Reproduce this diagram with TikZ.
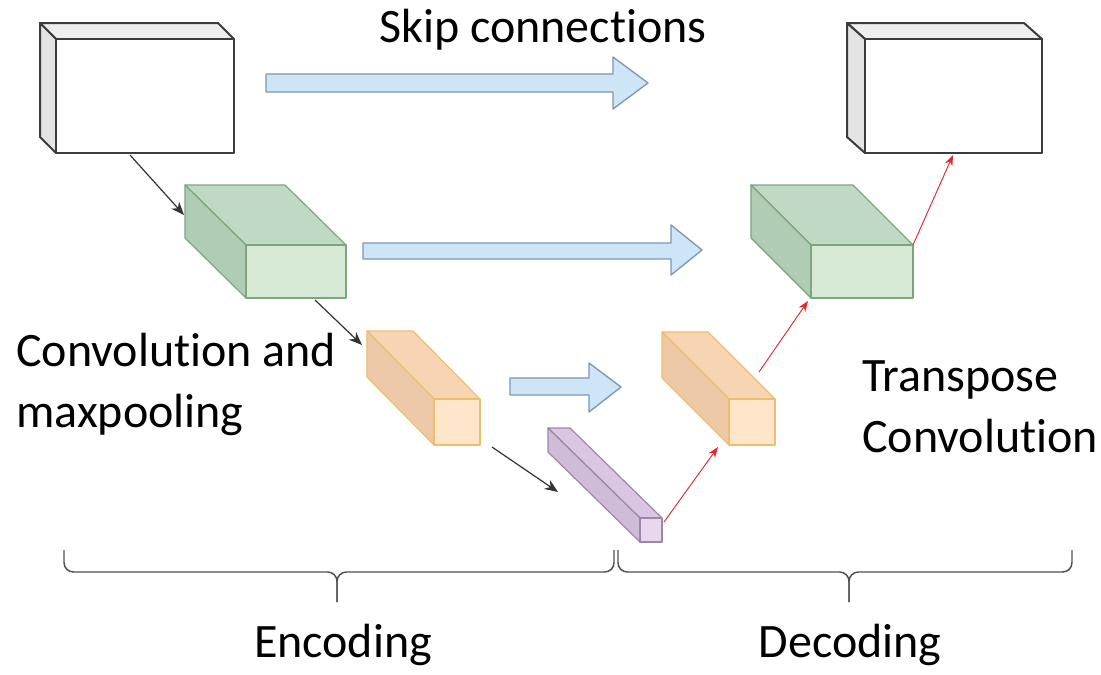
\documentclass[tikz,border=0pt]{standalone}
\usepackage{fontspec}
\setmainfont[Ligatures=NoCommon]{Carlito}
\usetikzlibrary{arrows.meta}
\definecolor{gfront}{RGB}{213,233,213}
\definecolor{gtop}{RGB}{192,217,196}
\definecolor{gside}{RGB}{176,204,181}
\definecolor{gstroke}{RGB}{125,165,125}
\definecolor{ofront}{RGB}{255,229,202}
\definecolor{otop}{RGB}{248,213,178}
\definecolor{oside}{RGB}{238,201,168}
\definecolor{ostroke}{RGB}{238,190,110}
\definecolor{pfront}{RGB}{231,216,236}
\definecolor{ptop}{RGB}{216,198,226}
\definecolor{pside}{RGB}{206,188,217}
\definecolor{pstroke}{RGB}{160,132,172}
\definecolor{wfront}{RGB}{255,255,255}
\definecolor{wtop}{RGB}{238,238,238}
\definecolor{wside}{RGB}{228,228,228}
\definecolor{wstroke}{RGB}{60,60,60}
\definecolor{bfill}{RGB}{206,229,248}
\definecolor{bstroke}{RGB}{125,150,180}
\definecolor{bracecol}{RGB}{80,80,80}
\definecolor{redarrow}{RGB}{228,40,40}
\newcommand{\drawcuboid}[9]{%
  \coordinate (#1-ftl) at (#2,#3);
  \coordinate (#1-ftr) at (#4,#3);
  \coordinate (#1-fbl) at (#2,#5);
  \coordinate (#1-fbr) at (#4,#5);
  \coordinate (#1-btl) at ({#2+#6},{#3+#7});
  \coordinate (#1-btr) at ({#4+#6},{#3+#7});
  \coordinate (#1-bbl) at ({#2+#6},{#5+#7});
  \filldraw[fill=#8top,draw=#8stroke,line width=#9,line join=round] (#1-ftl) -- (#1-ftr) -- (#1-btr) -- (#1-btl) -- cycle;
  \filldraw[fill=#8side,draw=#8stroke,line width=#9,line join=round] (#1-ftl) -- (#1-fbl) -- (#1-bbl) -- (#1-btl) -- cycle;
  \filldraw[fill=#8front,draw=#8stroke,line width=#9,line join=round] (#1-ftl) rectangle (#1-fbr);
}
\tikzset{
  lbl/.style={inner sep=0pt, font=\fontsize{36}{44}\selectfont, text=black},
  skiparrow/.style={fill=bfill, draw=bstroke, line width=1pt, line join=round},
  blkarrow/.style={draw=black!80, line width=0.9pt, -{Stealth[length=10pt,width=8pt]}},
  redarr/.style={draw=redarrow, line width=0.7pt, -{Stealth[length=8pt,width=6pt]}},
  bracestyle/.style={draw=bracecol, line width=1.1pt, rounded corners=7pt}
}
\begin{document}
\begin{tikzpicture}[x=0.75pt,y=-0.75pt]
\useasboundingbox (0,0) rectangle (1101,675);
\fill[white] (0,0) rectangle (1101,675);

% skip arrows
\filldraw[skiparrow] (266,74) -- (613,74) -- (613,57) -- (648,83) -- (613,109) -- (613,92) -- (266,92) -- cycle;
\filldraw[skiparrow] (363,243) -- (671,243) -- (671,225) -- (702,250) -- (671,275) -- (671,259) -- (363,259) -- cycle;
\filldraw[skiparrow] (510,378) -- (589,378) -- (589,363) -- (621,387) -- (589,412) -- (589,395) -- (510,395) -- cycle;

% cuboids
\drawcuboid{wl}{56}{39}{234}{153}{-16}{-16}{w}{1.5pt}
\drawcuboid{wr}{865}{39}{1042}{153}{-18}{-16}{w}{1.5pt}
\drawcuboid{gl}{246}{245}{346}{298}{-61}{-60}{g}{0.9pt}
\drawcuboid{gr}{811}{245}{913}{298}{-60}{-60}{g}{0.9pt}
\drawcuboid{ol}{434}{399}{480}{445}{-67}{-68}{o}{0.9pt}
\drawcuboid{or}{729}{399}{775}{445}{-67}{-67}{o}{0.9pt}
\drawcuboid{pu}{640}{518}{662}{542}{-92}{-90}{p}{0.9pt}

% encoder arrows
\coordinate (e1s) at (130,155);
\coordinate (e1e) at (184,215);
\coordinate (e2s) at (315,300);
\coordinate (e2e) at (362,345);
\coordinate (e3s) at (492,447);
\coordinate (e3e) at (558,492);
\draw[blkarrow] (e1s) -- (e1e);
\draw[blkarrow] (e2s) -- (e2e);
\draw[blkarrow] (e3s) -- (e3e);

% decoder arrows
\coordinate (d1s) at (664,522);
\coordinate (d1e) at (718,447);
\coordinate (d2s) at (759,372);
\coordinate (d2e) at (808,301);
\coordinate (d3s) at (913,245);
\coordinate (d3e) at (953,155);
\draw[redarr] (d1s) -- (d1e);
\draw[redarr] (d2s) -- (d2e);
\draw[redarr] (d3s) -- (d3e);

% braces
\draw[bracestyle] (64,550) |- (337,572) -- (337,602);
\draw[bracestyle] (614,550) |- (337,572) -- (337,602);
\draw[bracestyle] (618,550) |- (849,572) -- (849,602);
\draw[bracestyle] (1072,550) |- (849,572) -- (849,602);

% labels
\node[lbl, anchor=base] (skip) at (543,42) {Skip connections};
\node[lbl, anchor=base west] (conv1) at (16,366) {Convolution and};
\node[lbl, anchor=base west] (conv2) at (16,427) {maxpooling};
\node[lbl, anchor=base west] (tr1) at (862,391) {Transpose};
\node[lbl, anchor=base west] (tr2) at (862,452) {Convolution};
\node[lbl, anchor=base] (enc) at (343,657) {Encoding};
\node[lbl, anchor=base] (dec) at (850,657) {Decoding};
\end{tikzpicture}
\end{document}
